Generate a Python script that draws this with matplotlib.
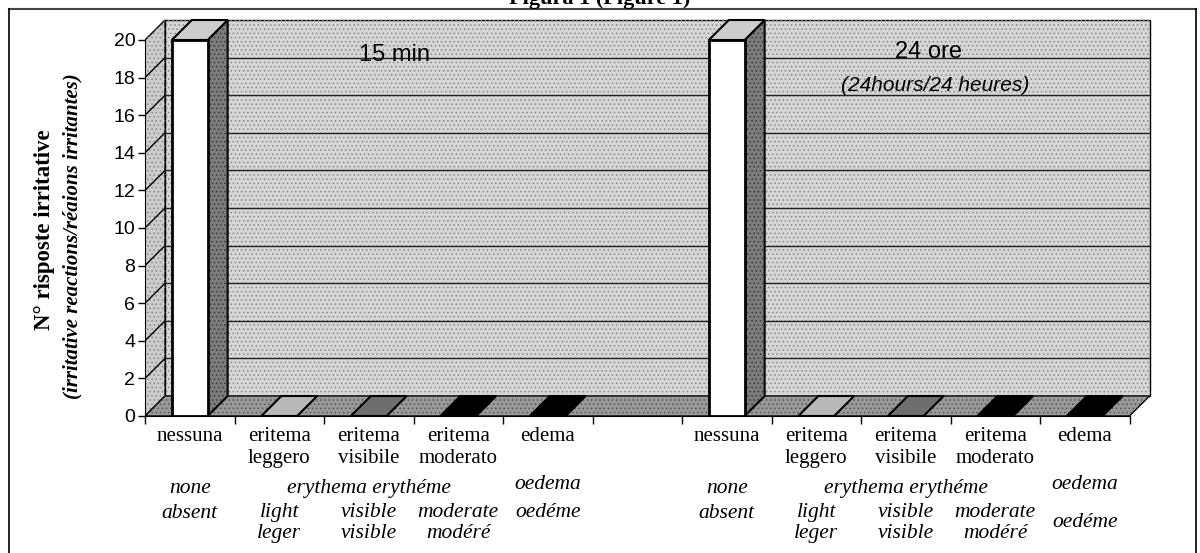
"""
Figura 1 -- irritative reactions after 15 min and 24 h.

Excel-style 3-D column chart rebuilt in plain matplotlib: back wall,
side wall and floor are drawn as patches in data coordinates, bars are
extruded by a fixed depth offset.
"""

import matplotlib
import matplotlib.pyplot as plt
import numpy as np
from matplotlib.lines import Line2D
from matplotlib.patches import Polygon, Rectangle

matplotlib.use("Agg")
plt.rcParams["hatch.linewidth"] = 0.6

SERIF = ["Liberation Serif", "DejaVu Serif"]
SANS = ["Liberation Sans", "DejaVu Sans"]

# ---------------------------------------------------------------------------
# Data
# ---------------------------------------------------------------------------
CATEGORIES = ["nessuna", "eritema\nleggero", "eritema\nvisibile",
              "eritema\nmoderato", "edema"]
VALUES_15MIN = [20, 0, 0, 0, 0]
VALUES_24H = [20, 0, 0, 0, 0]
Y_TICKS = list(range(0, 21, 2))
GROUP_LABELS = ["15 min", "24 ore"]
GROUP_SUBLABELS = ["", "(24hours/24 heures)"]
SUB_TOP = ["none", "erythema erythéme", "oedema"]
SUB_BOTTOM = ["absent", "light\nleger", "visible\nvisible", "moderate\nmodéré"]
OEDEME = "oedéme"

# ---------------------------------------------------------------------------
# Geometry / style
# ---------------------------------------------------------------------------
CAT_PX = 89.5     # pixels per category
UNIT_PX = 18.8    # pixels per y unit
DX = 20 / CAT_PX  # depth offset, x
DY = 20 / UNIT_PX # depth offset, y
BW = 0.40         # bar width (categories)
N_SLOTS = 11      # 5 + gap + 5

FRONT = ["white", "#b8b8b8", "#6e6e6e", "black", "black"]
SIDE = ["#7c7c7c", "#808080", "#505050", "#202020", "#202020"]
TOP = ["#cdcdcd", "#cfcfcf", "#909090", "#303030", "#303030"]
WALL = "#d6d6d6"
SIDE_WALL = "#cccccc"
FLOOR = "#999999"


def _stipple(ax, patch_cls, *args, color="#8a8a8a", zorder=0.55):
    """Dotted overlay imitating the scanned texture."""
    ax.add_patch(patch_cls(*args, fc="none", ec=color, lw=0, hatch="....",
                           zorder=zorder))


def _bar3d(ax, x, h, i):
    x0, x1 = x - BW / 2, x + BW / 2
    if h > 0:
        side = [(x1, 0), (x1 + DX, DY), (x1 + DX, h + DY), (x1, h)]
        ax.add_patch(Polygon(side, fc=SIDE[i], ec="black", lw=1.5, zorder=3))
        _stipple(ax, Polygon, side, color="#3a3a3a", zorder=3.1)
        ax.add_patch(Polygon([(x0, h), (x1, h), (x1 + DX, h + DY), (x0 + DX, h + DY)],
                             fc=TOP[i], ec="black", lw=1.5, zorder=3))
        ax.add_patch(Rectangle((x0, 0), BW, h, fc=FRONT[i], ec="black", lw=2,
                               zorder=4))
    else:
        ax.add_patch(Polygon([(x0, 0), (x1, 0), (x1 + DX, DY), (x0 + DX, DY)],
                             fc=FRONT[i], ec="black", lw=1.5, zorder=3))


def main():
    W, H = 1200, 553
    fig = plt.figure(figsize=(W / 100, H / 100), dpi=100)

    x_left, x_right = 145, 1165
    y_zero, y_top = 416, 12
    ax = fig.add_axes([x_left / W, (H - y_zero) / H,
                       (x_right - x_left) / W, (y_zero - y_top) / H])
    ax.set_xlim(-0.5, -0.5 + (x_right - x_left) / CAT_PX)
    ax.set_ylim(0, (y_zero - y_top) / UNIT_PX)
    ax.patch.set_visible(False)

    xr = N_SLOTS - 0.5
    ymax = Y_TICKS[-1]

    # walls and floor
    back = ((-0.5 + DX, DY), N_SLOTS, ymax)
    left = [(-0.5, 0), (-0.5, ymax), (-0.5 + DX, ymax + DY), (-0.5 + DX, DY)]
    floor = [(-0.5, 0), (xr, 0), (xr + DX, DY), (-0.5 + DX, DY)]
    ax.add_patch(Rectangle(*back, fc=WALL, ec="black", lw=1, zorder=0.5))
    _stipple(ax, Rectangle, *back)
    ax.add_patch(Polygon(left, fc=SIDE_WALL, ec="black", lw=1, zorder=0.5))
    _stipple(ax, Polygon, left)
    ax.add_patch(Polygon(floor, fc=FLOOR, ec="black", lw=1, zorder=0.6))
    _stipple(ax, Polygon, floor, color="#555555", zorder=0.65)

    for t in Y_TICKS[1:-1]:
        ax.plot([-0.5, -0.5 + DX], [t, t + DY], color="black", lw=1, zorder=1)
        ax.plot([-0.5 + DX, xr + DX], [t + DY, t + DY], color="#222222", lw=1,
                zorder=1)

    # bars
    for off, vals in ((0, VALUES_15MIN), (6, VALUES_24H)):
        for i, v in enumerate(vals):
            _bar3d(ax, off + i, v, i)

    # axes
    for s in ("top", "right"):
        ax.spines[s].set_visible(False)
    ax.spines["left"].set_bounds(0, ymax)
    ax.spines["bottom"].set_bounds(-0.5, xr)
    ax.spines["left"].set_zorder(5)
    ax.spines["bottom"].set_zorder(5)
    ax.set_yticks(Y_TICKS)
    ax.set_yticklabels([str(t) for t in Y_TICKS], family=SANS, fontsize=14)
    ax.tick_params(axis="y", length=5, width=1, pad=2)

    centers = list(range(5)) + list(range(6, 11))
    ax.set_xticks(np.arange(-0.5, N_SLOTS, 1.0))
    ax.set_xticklabels([])
    ax.set_xticks(centers, minor=True)
    ax.set_xticklabels(CATEGORIES + CATEGORIES, minor=True, family=SERIF,
                       fontsize=15, linespacing=1.2, va="top")
    ax.tick_params(axis="x", which="major", length=6, width=1)
    ax.tick_params(axis="x", which="minor", length=0, pad=8)

    # group labels inside the chart
    ax.text(2.29, 19.2, GROUP_LABELS[0], family=SANS, fontsize=17,
            ha="center", va="center", zorder=6)
    ax.text(8.25, 19.35, GROUP_LABELS[1], family=SANS, fontsize=17,
            ha="center", va="center", zorder=6)
    ax.text(8.33, 17.6, GROUP_SUBLABELS[1], family=SANS, fontsize=15,
            style="italic", ha="center", va="center", zorder=6)

    # translations below the axis
    it = dict(family=SERIF, style="italic", fontsize=15.5, ha="center",
              va="center", linespacing=1.15, clip_on=False)
    for off, oe_y in ((0, -5.15), (6, -5.65)):
        ax.text(off + 0, -3.88, SUB_TOP[0], **it)
        ax.text(off + 2, -3.83, SUB_TOP[1], **it)
        ax.text(off + 4, -3.62, SUB_TOP[2], **it)
        ax.text(off + 0, -5.16, SUB_BOTTOM[0], **it)
        for k in range(1, 4):
            ax.text(off + k, -5.7, SUB_BOTTOM[k], **it)
        ax.text(off + 4, oe_y, OEDEME, **it)

    # y labels
    fig.text(45 / W, 1 - 230 / H, "N° risposte irritative", family=SERIF,
             weight="bold", fontsize=16.5, rotation=90, ha="center", va="center")
    fig.text(72 / W, 1 - 236 / H, "(irritative reactions/réaions irritantes)",
             family=SERIF, weight="bold", style="italic", fontsize=15,
             rotation=90, ha="center", va="center")

    # title (cut by the top of the scan) and outer frame
    fig.text(0.5, 1 - 4 / H, "Figura 1 (Figure 1)", family=SERIF,
             weight="bold", fontsize=16, ha="center", va="baseline")
    fx0, fx1, fy1 = 9 / W, 1196 / W, 1 - 9 / H
    fig.add_artist(Line2D([fx0, fx1], [fy1, fy1], color="#444444", lw=1.5))
    fig.add_artist(Line2D([fx0, fx0], [0, fy1], color="black", lw=1.2))
    fig.add_artist(Line2D([fx1, fx1], [0, fy1], color="black", lw=1.2))

    fig.savefig("out.png", dpi=100)


if __name__ == "__main__":
    main()
